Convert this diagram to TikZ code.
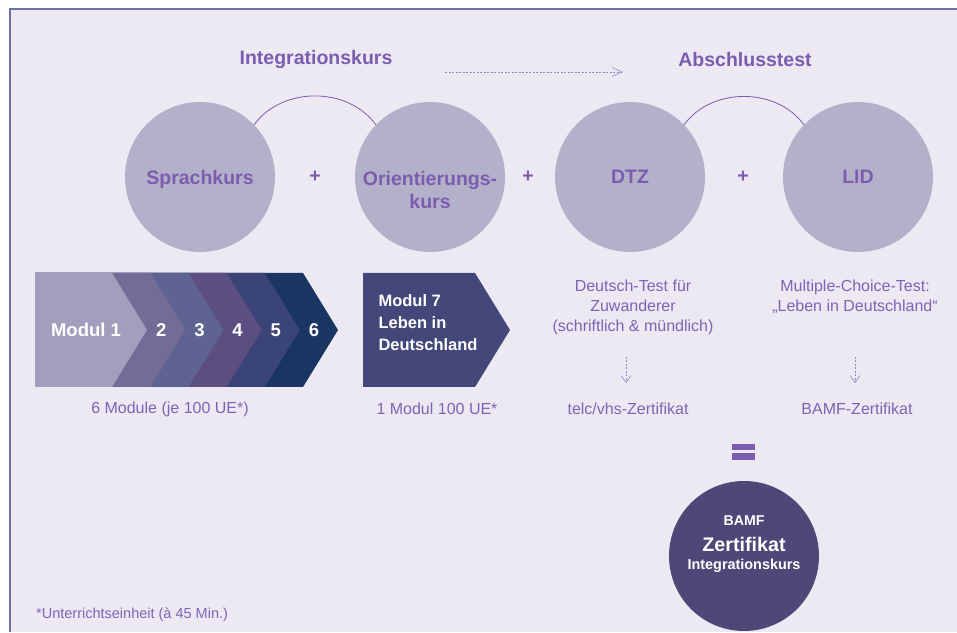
\documentclass[tikz,border=0pt]{standalone}
\usepackage{fontspec}
\setmainfont{Liberation Sans}
\usepackage{xcolor}
\usetikzlibrary{arrows.meta, positioning}

\definecolor{hintergrund}{RGB}{236,233,243}
\definecolor{rahmen}{RGB}{110,114,163}
\definecolor{kreisgrau}{RGB}{179,177,202}
\definecolor{lila}{RGB}{123,92,175}
\definecolor{lilahell}{RGB}{125,100,180}
\definecolor{pfeilgrau}{RGB}{150,135,200}
\definecolor{modA}{RGB}{162,158,189}
\definecolor{modB}{RGB}{115,108,151}
\definecolor{modC}{RGB}{95,99,145}
\definecolor{modD}{RGB}{91,79,129}
\definecolor{modE}{RGB}{59,68,118}
\definecolor{modF}{RGB}{25,54,99}
\definecolor{modG}{RGB}{67,71,121}
\definecolor{zertfarbe}{RGB}{78,71,119}

\begin{document}
\begin{tikzpicture}[x=1pt, y=1pt, node distance=115pt, on grid,
    kreis/.style={circle, fill=kreisgrau, minimum size=150pt, inner sep=0pt, align=center, text=lila, text depth=0pt, font=\fontsize{19.5}{23}\selectfont\bfseries},
    kreistext/.style={align=center, text=lila, font=\fontsize{19.5}{23}\selectfont\bfseries},
    plusnode/.style={text=lila, font=\fontsize{19.5}{23}\selectfont\bfseries},
    titel/.style={text=lila, font=\fontsize{19.5}{23}\selectfont\bfseries},
    modtext/.style={text=white, font=\fontsize{18.5}{22}\selectfont\bfseries},
    infotext/.style={align=center, text=lilahell, font=\fontsize{16}{20}\selectfont},
    bogen/.style={draw=lila, line width=0.8pt},
    pfeil/.style={draw=pfeilgrau, line width=0.6pt, dash pattern=on 2pt off 1.5pt, -{Straight Barb[length=7pt, width=10pt]}},
    zertkreis/.style={circle, fill=zertfarbe, minimum size=150pt, inner sep=0pt},
    zerttext/.style={text=white, inner sep=0pt}]

    \useasboundingbox (0,0) rectangle (957,632);
    \fill[hintergrund] (10,0) rectangle (957,622.5);
    \draw[rahmen, line width=2pt] (10,0) -- (10,622.5) -- (957,622.5);

    % Kurse und Tests
    \node[kreis] (sprach) at (200,455) {Sprachkurs};
    \node[kreis, right=230pt of sprach] (orient) {};
    \node[kreistext, below=13pt of orient] (orienttext) {Orientierungs-\\kurs};
    \node[kreis, right=200pt of orient] (dtz) {DTZ};
    \node[kreis, right=228pt of dtz] (lid) {LID};

    \node[plusnode, right=115pt of sprach] (plusA) {+};
    \node[plusnode, right=98pt of orient] (plusB) {+};
    \node[plusnode, right=113pt of dtz] (plusC) {+};

    \node[titel] (tIntegration) at (316,572) {Integrationskurs};
    \node[titel] (tAbschluss) at (745,572) {Abschlusstest};

    \draw[bogen] (sprach.44) to[out=54, in=126] (orient.136);
    \draw[bogen] (dtz.44) to[out=54, in=126] (lid.136);

    \coordinate (pfeilStart) at (445,560);
    \coordinate (pfeilEnde) at (623,560);
    \draw[pfeil, -{Straight Barb[length=10pt, width=9pt]}] (pfeilStart) -- (pfeilEnde);

    % Module
    \foreach \k/\farbe in {6/modF, 5/modE, 4/modD, 3/modC, 2/modB, 1/modA}{
        \pgfmathsetmacro{\rechts}{112+38.2*(\k-1)}
        \fill[\farbe] (35,245) -- (\rechts,245) -- ({\rechts+35},302) -- (\rechts,359) -- (35,359) -- cycle;
    }
    \node[modtext] (modul1) at (86,302) {Modul 1};
    \foreach \k in {2,...,6}{
        \node[modtext] (modul\k) at ({123+38.2*(\k-1)},302) {\k};
    }
    \fill[modG] (363,245) -- (475,245) -- (510,302) -- (475,359) -- (363,359) -- cycle;
    \node[modtext, align=left, anchor=west, font=\fontsize{16.5}{22}\selectfont\bfseries] (modul7) at (375,309) {Modul 7\\Leben in\\Deutschland};

    \node[infotext] (sechsmodule) at (170,223) {6 Module (je 100 UE*)};
    \node[infotext] (einmodul) at (437,223) {1 Modul 100 UE*};
    \node[infotext] (dtzinfo) at (633,325) {Deutsch-Test für\\Zuwanderer\\(schriftlich \& mündlich)};
    \node[infotext] (lidinfo) at (855,335) {Multiple-Choice-Test:\\„Leben in Deutschland“};
    \node[infotext] (telc) at (628,223) {telc/vhs-Zertifikat};
    \node[infotext] (bamf) at (857,223) {BAMF-Zertifikat};

    \draw[pfeil] ([shift={(-2,52)}]telc.center) -- ([shift={(-2,26)}]telc.center);
    \draw[pfeil] ([shift={(-2,52)}]bamf.center) -- ([shift={(-2,26)}]bamf.center);

    % Ergebnis
    \fill[lila] (732,188) rectangle (755,182);
    \fill[lila] (732,179) rectangle (755,172.5);

    \node[zertkreis] (zert) at (744,76) {};
    \node[zerttext, font=\fontsize{14.2}{17}\selectfont\bfseries] (zertA) at (744,111) {BAMF};
    \node[zerttext, font=\fontsize{19.7}{23}\selectfont\bfseries] (zertB) at (744,88) {Zertifikat};
    \node[zerttext, font=\fontsize{14.4}{17}\selectfont\bfseries] (zertC) at (744,66) {Integrationskurs};

    \node[anchor=west, inner sep=0pt, text=lilahell, font=\fontsize{14.5}{17}\selectfont] (fussnote) at (36,17) {*Unterrichtseinheit (à 45 Min.)};

\end{tikzpicture}
\end{document}
